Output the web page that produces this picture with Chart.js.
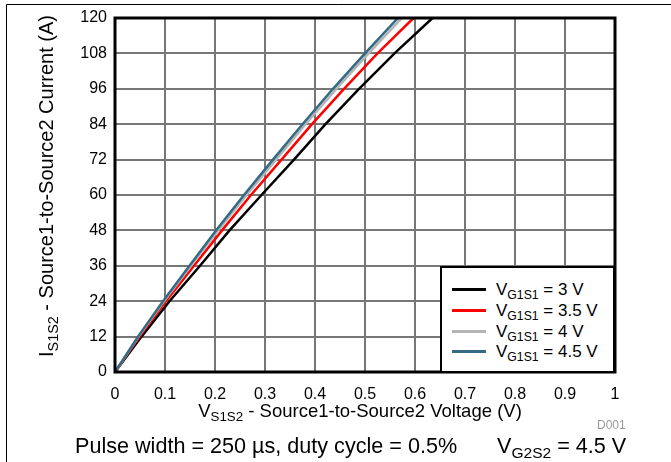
<!DOCTYPE html>
<html><head><meta charset="utf-8">
<script src="https://cdn.jsdelivr.net/npm/chart.js@4/dist/chart.umd.min.js"></script>
<style>
html,body{margin:0;padding:0;background:#fff;}
#wrap{position:relative;width:671px;height:462px;overflow:hidden;font-family:"Liberation Sans",Arial,sans-serif;color:#000;}
#c{position:absolute;left:0;top:0;}
.t{position:absolute;white-space:nowrap;line-height:1;}
sub{font-size:0.72em;vertical-align:-0.32em;line-height:0;}
#ytitle{left:46px;top:186px;transform:translate(-50%,-50%) rotate(-90deg);font-size:20px;}
#xtitle{left:360px;top:411px;transform:translate(-50%,-50%);font-size:18.5px;}
#d001{left:597px;top:419px;font-size:12px;color:#999;}
#note1{left:75px;top:435px;font-size:21.6px;}
#note2{left:497px;top:435px;font-size:21.6px;}
#legend{position:absolute;left:440px;top:266px;width:175px;height:107px;border:2px solid #000;background:#fff;box-sizing:border-box;}
.row{position:absolute;left:0;height:20px;width:170px;}
.sw{position:absolute;left:10px;top:9px;width:34px;height:3px;}
.lt{position:absolute;left:54px;top:2px;font-size:17px;white-space:nowrap;line-height:1;}
</style></head>
<body>
<div id="wrap">
<canvas id="c" width="671" height="462"></canvas>
<div class="t" id="ytitle">I<sub>S1S2</sub> - Source1-to-Source2 Current (A)</div>
<div class="t" id="xtitle">V<sub>S1S2</sub> - Source1-to-Source2 Voltage (V)</div>
<div class="t" id="d001">D001</div>
<div class="t" id="note1">Pulse width = 250 µs, duty cycle = 0.5%</div>
<div class="t" id="note2">V<sub>G2S2</sub> = 4.5 V</div>
<div id="legend"></div>
</div>
<script>
// ---- data ----
const currentA = [0, 12, 24, 36, 48, 60, 72, 84, 96, 108, 120];
const vgs3V   = [0, 0.053, 0.109, 0.170, 0.229, 0.293, 0.358, 0.421, 0.488, 0.559, 0.635];
const vgs35V  = [0, 0.049, 0.102, 0.158, 0.214, 0.272, 0.333, 0.394, 0.458, 0.525, 0.597];
const vgs4V   = [0, 0.047, 0.098, 0.152, 0.206, 0.263, 0.322, 0.381, 0.443, 0.507, 0.574];
const vgs45V  = [0, 0.046, 0.096, 0.149, 0.202, 0.258, 0.316, 0.375, 0.436, 0.500, 0.566];
const seriesSub   = ['G1S1', 'G1S1', 'G1S1', 'G1S1'];
const seriesValue = ['3 V', '3.5 V', '4 V', '4.5 V'];
const xTickLabels = ['0','0.1','0.2','0.3','0.4','0.5','0.6','0.7','0.8','0.9','1'];
const yTickLabels = ['0','12','24','36','48','60','72','84','96','108','120'];

const colors = ['#000000', '#ff0000', '#b4b4b4', '#336a86'];
const seriesV = [vgs3V, vgs35V, vgs4V, vgs45V];

const datasets = seriesV.map((vs, i) => ({
  label: 'V' + seriesSub[i] + ' = ' + seriesValue[i],
  data: vs.map((v, k) => ({x: v, y: currentA[k]})),
  borderColor: colors[i],
  backgroundColor: colors[i],
  borderWidth: 2.5,
  pointRadius: 0,
  showLine: true,
  tension: 0,
  order: 4 - i
}));

// legend (HTML so subscripts are real text)
const leg = document.getElementById('legend');
seriesV.forEach((_, i) => {
  const r = document.createElement('div');
  r.className = 'row';
  r.style.top = (11 + i * 20.8) + 'px';
  r.innerHTML = '<div class="sw" style="background:' + colors[i] + '"></div>' +
    '<div class="lt">V<sub>' + seriesSub[i] + '</sub> = ' + seriesValue[i] + '</div>';
  leg.appendChild(r);
});

const framePlugin = {
  id: 'frame',
  beforeDraw(chart) {
    const ctx = chart.ctx;
    ctx.save();
    ctx.fillStyle = '#fff';
    ctx.fillRect(0, 0, chart.width, chart.height);
    ctx.strokeStyle = '#000';
    ctx.lineWidth = 1;
    ctx.beginPath();
    ctx.moveTo(6.5, chart.height);
    ctx.lineTo(6.5, 4.5);
    ctx.lineTo(chart.width, 4.5);
    ctx.stroke();
    ctx.restore();
  },
  afterDraw(chart) {
    const a = chart.chartArea, ctx = chart.ctx;
    ctx.save();
    ctx.strokeStyle = '#000';
    ctx.lineWidth = 3;
    ctx.strokeRect(a.left, a.top, a.right - a.left, a.bottom - a.top);
    ctx.restore();
  }
};

new Chart(document.getElementById('c'), {
  type: 'scatter',
  data: { datasets },
  plugins: [framePlugin],
  options: {
    responsive: false,
    animation: false,
    devicePixelRatio: 1,
    layout: { padding: { left: 0, top: 18, right: 56, bottom: 0 } },
    plugins: { legend: { display: false }, tooltip: { enabled: false } },
    scales: {
      x: {
        type: 'linear', min: 0, max: 1,
        afterFit(s) { s.height = 90; },
        ticks: {
          stepSize: 0.1,
          padding: 13,
          color: '#000',
          font: { family: '"Liberation Sans", Arial, sans-serif', size: 16 },
          callback: (v, i) => xTickLabels[i]
        },
        grid: { color: '#777', lineWidth: 2, drawTicks: false },
        border: { display: false }
      },
      y: {
        type: 'linear', min: 0, max: 120,
        afterFit(s) { s.width = 115; },
        ticks: {
          stepSize: 12,
          padding: 8,
          color: '#000',
          font: { family: '"Liberation Sans", Arial, sans-serif', size: 16 },
          callback: (v, i) => yTickLabels[i]
        },
        grid: { color: '#777', lineWidth: 2, drawTicks: false },
        border: { display: false }
      }
    }
  }
});
</script>
</body></html>
